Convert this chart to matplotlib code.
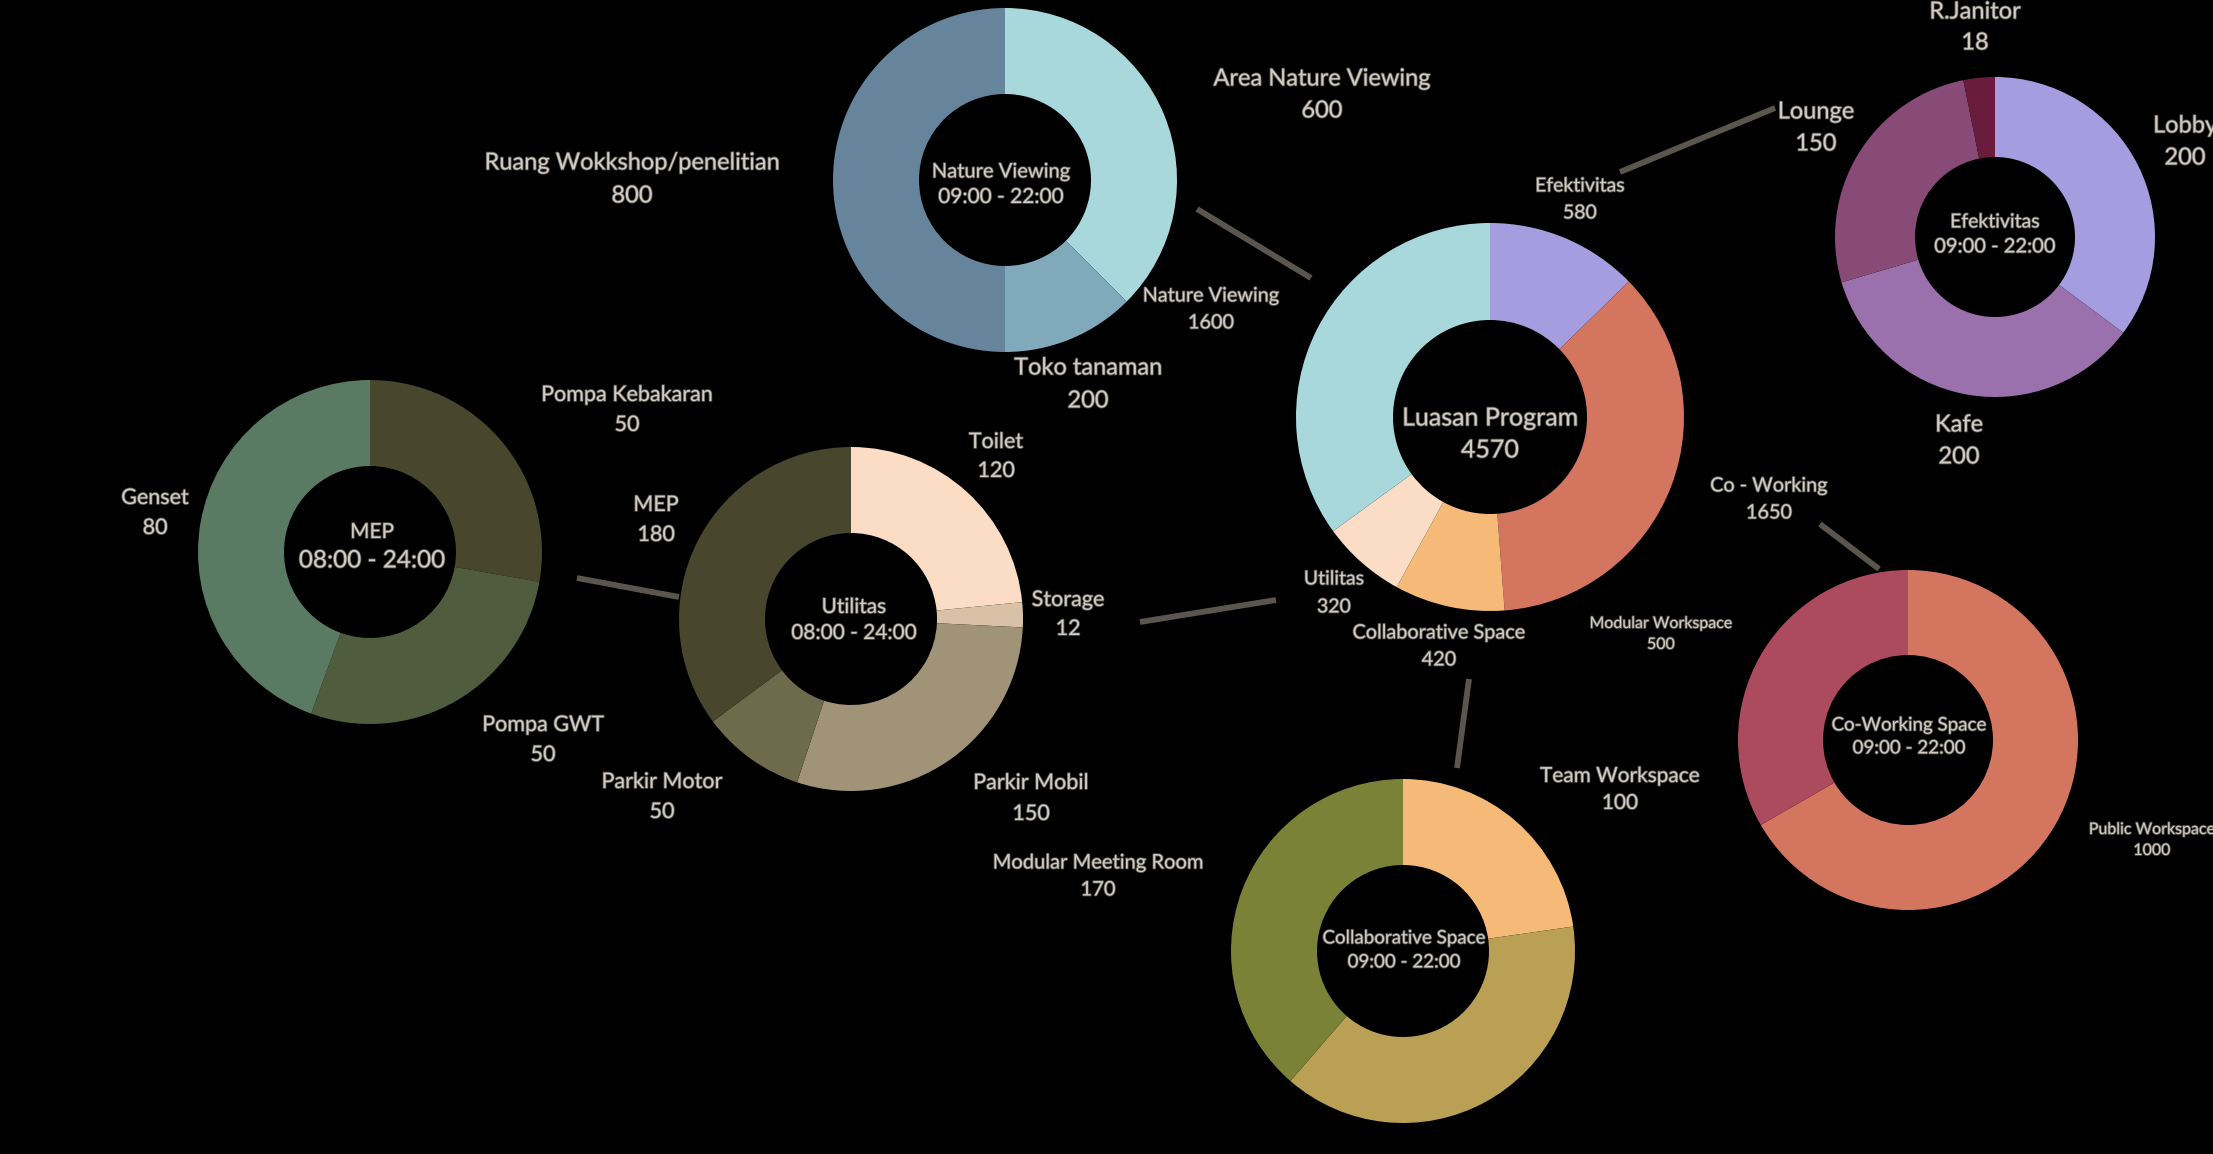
# donut diagram of programme areas (luasan program) with linked sub-donuts
import matplotlib
matplotlib.use("Agg")
import matplotlib.pyplot as plt
import matplotlib.patheffects as pe

W, H = 2213, 1154

# --- data -------------------------------------------------------------
main_labels = ["Efektivitas", "Co - Working", "Collaborative Space", "Utilitas", "Nature Viewing"]
main_values = [580, 1650, 420, 320, 1600]
main_total = 4570

nature_labels = ["Area Nature Viewing", "Toko tanaman", "Ruang Wokkshop/penelitian"]
nature_values = [600, 200, 800]

efek_labels = ["Lobby", "Kafe", "Lounge", "R.Janitor"]
efek_values = [200, 200, 150, 18]

cowork_labels = ["Public Workspace", "Modular Workspace"]
cowork_values = [1000, 500]

collab_labels = ["Team Workspace", "", "Modular Meeting Room"]
collab_values = [100, 170, 170]

util_labels = ["Toilet", "Storage", "Parkir Mobil", "Parkir Motor", "MEP"]
util_values = [120, 12, 150, 50, 180]

mep_labels = ["Pompa Kebakaran", "Pompa GWT", "Genset"]
mep_values = [50, 50, 80]

# --- styling ------------------------------------------------------------
TXT = "#d0ccc4"
LINE = "#5a554d"
FONT = "Lato"
STROKE = [pe.withStroke(linewidth=1.2, foreground="#55524c")]

fig = plt.figure(figsize=(W / 100, H / 100), dpi=100, facecolor="black")
ax = fig.add_axes([0, 0, 1, 1])
ax.set_facecolor("black")


def y_(y):
    # image coordinates (y down) -> data coordinates (y up)
    return H - y


def donut(values, colors, cx, cy, r, hole=0.5):
    ax.pie(values, colors=colors, center=(cx, y_(cy)), radius=r, startangle=90,
           counterclock=False, frame=True,
           wedgeprops=dict(width=r * (1 - hole), edgecolor="none"))


def label(x, y1, y2, name, value, size, vsize=None):
    ax.text(x, y_(y1), name, ha="center", va="center", color=TXT,
            fontsize=size, family=FONT, path_effects=STROKE)
    ax.text(x, y_(y2), str(value), ha="center", va="center", color=TXT,
            fontsize=vsize or size, family=FONT, path_effects=STROKE)


def link(x0, y0, x1, y1):
    ax.plot([x0, x1], [y_(y0), y_(y1)], color=LINE, lw=4.2, solid_capstyle="butt")


# connector lines
link(1197, 209, 1311, 278)
link(1620, 172, 1775, 108)
link(577, 578, 679, 597)
link(1140, 622, 1276, 600)
link(1469, 679, 1457, 768)
link(1820, 524, 1879, 569)

# donuts
donut(main_values, ["#a69de0", "#d3755f", "#f5ba78", "#fbdcc4", "#a8d8dc"], 1490, 417, 194)
donut(nature_values, ["#a8d8dc", "#80aabb", "#66849c"], 1005, 180, 172)
donut(efek_values, ["#a69de0", "#9b71ad", "#884a76", "#6a1c3c"], 1995, 237, 160)
donut(cowork_values, ["#d3755f", "#ac4a5e"], 1908, 740, 170)
donut(collab_values, ["#f5ba78", "#b9a055", "#7a8238"], 1403, 951, 172)
donut(util_values, ["#fbdcc4", "#d9c1a5", "#a09377", "#6e6a4c", "#48472e"], 851, 619, 172)
donut(mep_values, ["#48472e", "#4f5d3e", "#5a7a63"], 370, 552, 172)

# centre texts
label(1490, 418, 450, "Luasan Program", main_total, 18)
label(1001, 172, 197, "Nature Viewing", "09:00 - 22:00", 14.5, 15)
label(1995, 222, 247, "Efektivitas", "09:00 - 22:00", 14, 14.5)
label(1909, 725, 748, "Co-Working Space", "09:00 - 22:00", 13.5, 13.5)
label(1404, 938, 962, "Collaborative Space", "09:00 - 22:00", 13.5, 13.5)
label(854, 607, 633, "Utilitas", "08:00 - 24:00", 15, 15)
label(372, 532, 561, "MEP", "08:00 - 24:00", 15, 17.5)

# main donut labels
label(1211, 296, 323, main_labels[4], main_values[4], 14.3)
label(1580, 186, 213, main_labels[0], main_values[0], 14)
label(1769, 486, 513, main_labels[1], main_values[1], 14.3)
label(1334, 579, 607, main_labels[3], main_values[3], 14)
label(1439, 633, 660, main_labels[2], main_values[2], 14.3)

# nature viewing labels
label(1322, 79, 111, nature_labels[0], nature_values[0], 17)
label(1088, 368, 401, nature_labels[1], nature_values[1], 17)
label(632, 163, 196, nature_labels[2], nature_values[2], 17)

# efektivitas labels
label(2185, 126, 158, efek_labels[0], efek_values[0], 17)
label(1959, 425, 457, efek_labels[1], efek_values[1], 17)
label(1816, 112, 144, efek_labels[2], efek_values[2], 17)
label(1975, 12, 43, efek_labels[3], efek_values[3], 17)

# co-working labels
label(2152, 830, 851, cowork_labels[0], cowork_values[0], 11.5)
label(1661, 624, 645, cowork_labels[1], cowork_values[1], 11.5)

# collaborative labels (middle slice carries no label)
label(1620, 776, 803, collab_labels[0], collab_values[0], 15)
label(1098, 863, 890, collab_labels[2], collab_values[2], 14.5)

# utilitas labels
label(996, 442, 471, util_labels[0], util_values[0], 15.5)
label(1068, 600, 629, util_labels[1], util_values[1], 15.5)
label(1031, 783, 814, util_labels[2], util_values[2], 15.5)
label(662, 782, 812, util_labels[3], util_values[3], 15.5)
label(656, 505, 535, util_labels[4], util_values[4], 15.5)

# mep labels
label(627, 395, 425, mep_labels[0], mep_values[0], 15.5)
label(543, 725, 755, mep_labels[1], mep_values[1], 15.5)
label(155, 498, 528, mep_labels[2], mep_values[2], 15.5)

ax.set_xlim(0, W)
ax.set_ylim(0, H)
ax.set_aspect("equal")
ax.axis("off")

fig.savefig("out.png", dpi=100, facecolor="black")
